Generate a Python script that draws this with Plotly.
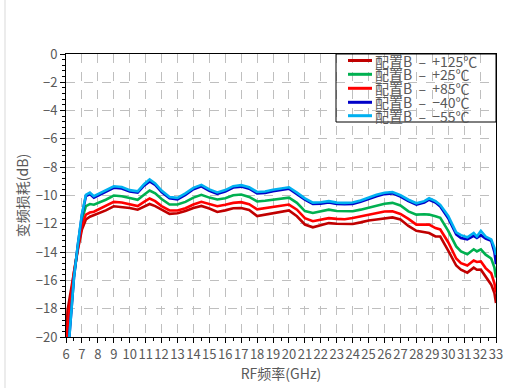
import plotly.graph_objects as go

freq = [6.0, 6.1, 6.25, 6.5, 6.75, 7.0, 7.25, 7.5, 7.75, 8.0, 8.5, 9.0, 9.5, 10.0, 10.5,
        10.9, 11.25, 11.6, 12.0, 12.5, 13.0, 13.5, 14.0, 14.5, 15.0, 15.5, 16.0, 16.5, 17.0, 17.5,
        18.0, 18.5, 19.0, 19.5, 20.0, 20.5, 21.0, 21.5, 22.0, 22.5, 23.0, 23.5, 24.0, 24.5, 25.0,
        25.5, 26.0, 26.5, 27.0, 27.5, 28.0, 28.5, 28.8, 29.2, 29.5, 30.0, 30.5, 30.8, 31.2, 31.6,
        31.8, 32.05, 32.35, 32.7, 32.9, 33.0]

loss_p125 = [-20.5, -18.1, -17.1, -15.3, -13.8, -12.4, -11.7, -11.5, -11.4, -11.3,
             -11.05, -10.76, -10.8, -10.88, -11.0, -10.8, -10.6, -10.75, -11.0, -11.3,
             -11.25, -11.1, -10.88, -10.74, -10.92, -11.16, -11.05, -10.9, -10.88, -11.02,
             -11.45, -11.35, -11.25, -11.15, -11.05, -11.47, -12.05, -12.25, -12.1, -11.95,
             -12.0, -12.03, -12.01, -11.9, -11.77, -11.7, -11.6, -11.55, -11.7, -12.15,
             -12.5, -12.6, -12.65, -12.89, -12.9, -13.9, -14.95, -15.24, -15.45, -15.1,
             -15.25, -15.24, -15.72, -16.3, -16.9, -17.6]

loss_p25 = [-22.5, -21.0, -18.8, -15.6, -13.6, -11.7, -10.75, -10.6, -10.65, -10.55,
            -10.3, -10.0, -10.05, -10.17, -10.3, -9.95, -9.65, -9.85, -10.25, -10.64,
            -10.64, -10.45, -10.15, -9.95, -10.15, -10.28, -10.2, -9.98, -9.93, -10.1,
            -10.42, -10.37, -10.28, -10.2, -10.15, -10.52, -11.1, -11.23, -11.1, -11.0,
            -11.1, -11.08, -11.11, -11.0, -10.85, -10.7, -10.58, -10.52, -10.7, -11.12,
            -11.35, -11.33, -11.35, -11.47, -11.58, -12.5, -13.6, -13.95, -14.15, -13.8,
            -13.95, -13.8, -14.18, -14.45, -15.1, -15.8]

loss_p85 = [-21.5, -19.3, -17.8, -15.4, -13.7, -12.1, -11.35, -11.2, -11.15, -11.0,
            -10.75, -10.45, -10.5, -10.64, -10.75, -10.45, -10.21, -10.4, -10.75, -11.06,
            -11.06, -10.9, -10.64, -10.45, -10.6, -10.76, -10.65, -10.52, -10.47, -10.62,
            -10.98, -10.9, -10.8, -10.72, -10.64, -11.0, -11.6, -11.82, -11.7, -11.6,
            -11.65, -11.68, -11.59, -11.48, -11.35, -11.25, -11.13, -11.12, -11.3, -11.65,
            -12.06, -12.06, -12.06, -12.3, -12.4, -13.3, -14.45, -14.78, -14.95, -14.6,
            -14.7, -14.66, -15.13, -15.5, -16.2, -16.85]

loss_m40 = [-23.0, -21.6, -19.4, -15.8, -13.45, -11.4, -10.05, -9.9, -10.15, -10.0,
            -9.7, -9.45, -9.5, -9.72, -9.8, -9.3, -9.0, -9.25, -9.75, -10.2,
            -10.27, -9.95, -9.56, -9.35, -9.67, -9.88, -9.72, -9.44, -9.37, -9.52,
            -9.85, -9.82, -9.7, -9.6, -9.52, -9.9, -10.3, -10.6, -10.58, -10.5,
            -10.6, -10.62, -10.6, -10.45, -10.23, -10.05, -9.9, -9.85, -10.08, -10.4,
            -10.65, -10.5, -10.3, -10.5, -10.78, -11.6, -12.75, -13.0, -13.1, -12.85,
            -13.0, -12.8, -13.05, -13.2, -14.0, -14.85]

loss_m55 = [-23.0, -21.6, -19.4, -15.8, -13.4, -11.3, -9.95, -9.8, -10.05, -9.9,
            -9.6, -9.35, -9.4, -9.62, -9.7, -9.2, -8.87, -9.15, -9.65, -10.1,
            -10.17, -9.85, -9.46, -9.25, -9.57, -9.78, -9.62, -9.34, -9.27, -9.42,
            -9.75, -9.72, -9.6, -9.5, -9.42, -9.8, -10.2, -10.5, -10.48, -10.4,
            -10.5, -10.52, -10.5, -10.35, -10.13, -9.95, -9.8, -9.75, -9.98, -10.3,
            -10.55, -10.4, -10.2, -10.4, -10.66, -11.45, -12.6, -12.8, -12.95, -12.65,
            -12.9, -12.5, -12.9, -13.1, -13.7, -14.2]

NB = "\u00a0"
series_names = [f"配置B{NB}{NB}–{NB}{NB}+125℃", f"配置B{NB}{NB}–{NB}{NB}+25℃",
                f"配置B{NB}{NB}–{NB}{NB}+85℃", f"配置B{NB}{NB}–{NB}{NB}−40℃",
                f"配置B{NB}{NB}–{NB}{NB}−55℃"]
series_colors = ["#C00000", "#00B050", "#FF0000", "#0000C8", "#00B0F0"]
series_values = [loss_p125, loss_p25, loss_p85, loss_m40, loss_m55]

x_ticks = list(range(6, 34))
y_ticks = list(range(-20, 1, 2))

FONT = "Noto Sans CJK SC"
TXT = "#595959"

# layout geometry (pixels)
W, H = 508, 388
ML, MR, MT, MB = 66, 12, 54, 51
PW, PH = W - ML - MR, H - MT - MB


def px_x(px):
    return (px - ML) / PW


def px_y(py):
    return (H - MB - py) / PH


fig = go.Figure()
for name, color, vals in zip(series_names, series_colors, series_values):
    fig.add_trace(go.Scatter(x=freq, y=vals, mode="lines", name=name,
                             line=dict(color=color, width=2.6), showlegend=False))

fig.update_layout(
    width=W, height=H,
    margin=dict(l=ML, r=MR, t=MT, b=MB, autoexpand=False),
    paper_bgcolor="white", plot_bgcolor="white",
    font=dict(family=FONT, size=13, color=TXT),
    showlegend=False,
)

fig.update_xaxes(
    range=[6, 33], tickmode="array", tickvals=x_ticks, ticktext=[str(v) for v in x_ticks],
    tickangle=0, automargin=False,
    showline=True, linecolor="black", linewidth=1, mirror=True,
    ticks="outside", ticklen=5, tickcolor="black",
    minor=dict(dtick=0.5, ticks="outside", ticklen=3, tickcolor="black", showgrid=False),
    showgrid=True, gridcolor="#BFBFBF", griddash="dash", gridwidth=1,
    zeroline=False,
    tickfont=dict(family=FONT, size=13, color=TXT),
    title=dict(text="RF频率(GHz)", font=dict(family=FONT, size=14, color=TXT), standoff=5),
)
fig.update_yaxes(
    range=[-20, 0], tickmode="array", tickvals=y_ticks,
    ticktext=[str(v).replace("-", "−") for v in y_ticks],
    automargin=False,
    showline=True, linecolor="black", linewidth=1, mirror=True,
    ticks="outside", ticklen=5, tickcolor="black",
    minor=dict(dtick=0.4, tick0=0, ticks="outside", ticklen=3, tickcolor="black", showgrid=False),
    showgrid=True, gridcolor="#BFBFBF", griddash="dash", gridwidth=1,
    zeroline=False,
    tickfont=dict(family=FONT, size=13, color=TXT),
    title=dict(text="变频损耗(dB)", font=dict(family=FONT, size=14, color=TXT), standoff=3),
)

# legend drawn by hand (box, line samples, labels)
fig.add_shape(type="rect", xref="paper", yref="paper",
              x0=px_x(336), x1=1.0, y0=px_y(122), y1=1.0,
              line=dict(color="black", width=1), fillcolor="rgba(0,0,0,0)")
row_y = [60.5, 74.3, 88.3, 102.3, 115.7]
for name, color, ry in zip(series_names, series_colors, row_y):
    fig.add_shape(type="line", xref="paper", yref="paper",
                  x0=px_x(348), x1=px_x(372), y0=px_y(ry), y1=px_y(ry),
                  line=dict(color=color, width=3))
    fig.add_annotation(xref="paper", yref="paper", x=px_x(373), y=px_y(ry),
                       xanchor="left", yanchor="middle", text=name, showarrow=False,
                       font=dict(family=FONT, size=14, color=TXT))

fig.add_shape(type="line", xref="paper", yref="paper",
              x0=px_x(5), x1=px_x(5), y0=-1.5, y1=2, line=dict(color="#D9D9D9", width=1))

fig.write_html("out.html")
